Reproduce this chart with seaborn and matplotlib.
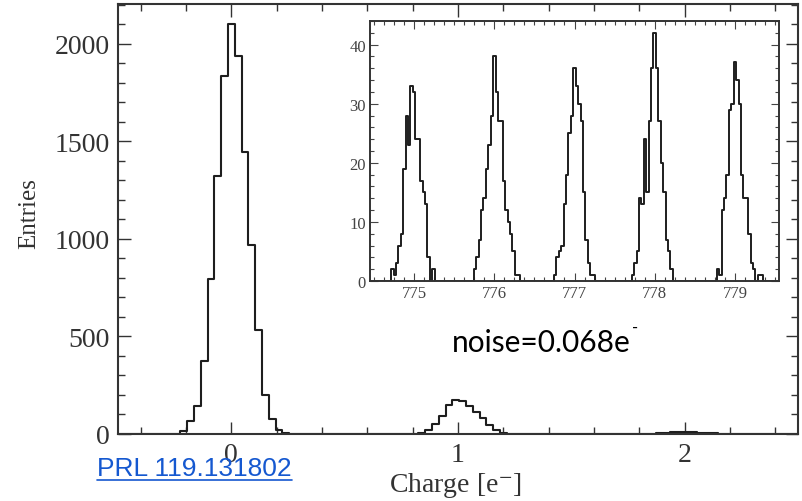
import numpy as np
import pandas as pd
import matplotlib
matplotlib.use("Agg")
import matplotlib.pyplot as plt
from matplotlib.ticker import MultipleLocator
from matplotlib.lines import Line2D
import seaborn as sns

# main panel: charge per pixel, 0.03 e- bins
peak0_charge = [-0.21, -0.18, -0.15, -0.12, -0.09, -0.06, -0.03, 0.0,
                0.03, 0.06, 0.09, 0.12, 0.15, 0.18, 0.21, 0.24]
peak0_entries = [14, 65, 145, 373, 795, 1325, 1837, 2103,
                 1940, 1445, 971, 535, 202, 77, 20, 5]
peak1_charge = [0.81, 0.84, 0.87, 0.90, 0.93, 0.96, 0.99, 1.02,
                1.05, 1.08, 1.11, 1.14, 1.17, 1.20, 1.23]
peak1_entries = [2, 5, 20, 52, 92, 150, 176, 168, 146, 112, 80, 45, 20, 6, 2]
peak2_charge = [1.83, 1.86, 1.89, 1.92, 1.95, 1.98, 2.01, 2.04, 2.07,
                2.10, 2.13, 2.16, 2.19]
peak2_entries = [1, 2, 3, 6, 8, 10, 9, 8, 6, 4, 3, 2, 1]

# inset: high-charge calibration peaks (first bin index relative to peak)
inset_peaks = [775, 776, 777, 778, 779]
inset_first_bin = [-9, -8, -8, -9, -7]
counts_775 = [2, 1, 3, 6, 8, 19, 28, 23, 33, 32, 24, 24, 17, 15, 13, 4, 0, 2]
counts_776 = [2, 4, 7, 12, 14, 19, 23, 28, 38, 32, 27, 27, 17, 12, 10, 8, 5, 1, 1]
counts_777 = [1, 4, 5, 6, 13, 18, 25, 28, 36, 33, 30, 27, 15, 7, 3, 1, 1]
counts_778 = [1, 3, 5, 14, 13, 24, 15, 27, 36, 42, 36, 27, 20, 15, 7, 5, 2]
counts_779 = [2, 1, 12, 14, 18, 29, 30, 37, 34, 30, 18, 14, 14, 8, 3, 2, 0, 1, 1]
inset_counts = [counts_775, counts_776, counts_777, counts_778, counts_779]

bin_w = 0.03

sns.set_theme(style="ticks")
plt.rcParams["font.family"] = ["Liberation Serif", "DejaVu Serif"]
plt.rcParams["mathtext.fontset"] = "stix"

fig = plt.figure(figsize=(8.03, 5.02), dpi=100)
ax = fig.add_axes([0.147, 0.1335, 0.8468, 0.8565])

main_df = pd.DataFrame({
    "charge": np.concatenate([peak0_charge, peak1_charge, peak2_charge]),
    "entries": np.concatenate([peak0_entries, peak1_entries, peak2_entries]),
})
# seaborn compares bins to "auto", so hand it a plain list
main_edges = np.linspace(-0.495, 2.505, 101).tolist()
sns.histplot(data=main_df, x="charge", weights="entries", bins=main_edges,
             element="step", fill=False, color="#1e1e1e", linewidth=1.5, ax=ax)

ax.set_xlim(-0.5, 2.5)
ax.set_ylim(0, 2205)
ax.xaxis.set_major_locator(MultipleLocator(1))
ax.xaxis.set_minor_locator(MultipleLocator(0.2))
ax.yaxis.set_major_locator(MultipleLocator(500))
ax.yaxis.set_minor_locator(MultipleLocator(100))
ax.tick_params(which="both", direction="in", top=True, right=True,
               color="#333333", width=1.0)
ax.tick_params(which="major", length=9, labelsize=20, labelcolor="#333333", pad=6)
ax.tick_params(which="minor", length=5)
for s in ax.spines.values():
    s.set_linewidth(1.5)
    s.set_color("#333333")
ax.set_xlabel("Charge [e$^{-}$]", fontsize=20, color="#333333")
ax.set_ylabel("Entries", fontsize=18, color="#333333")
ax.xaxis.set_label_coords(0.4956, -0.083)
ax.yaxis.set_label_coords(-0.1147, 0.516)

# inset
ins = fig.add_axes([370 / 803, (502 - 282) / 502, 409 / 803, 260 / 502])
ins_x, ins_w, ins_edges = [], [], [np.array([774.45, 779.55])]
for peak, first, counts in zip(inset_peaks, inset_first_bin, inset_counts):
    k = np.arange(first, first + len(counts))
    ins_x.append(peak + bin_w * k)
    ins_w.append(counts)
    ins_edges.append(peak + bin_w * (np.arange(first, first + len(counts) + 1) - 0.5))
ins_df = pd.DataFrame({"charge": np.concatenate(ins_x),
                       "entries": np.concatenate(ins_w)})
ins_edges = np.unique(np.round(np.concatenate(ins_edges), 6)).tolist()
sns.histplot(data=ins_df, x="charge", weights="entries", bins=ins_edges,
             element="step", fill=False, color="#1e1e1e", linewidth=1.4, ax=ins)

ins.set_xlim(774.45, 779.55)
ins.set_ylim(0, 44)
ins.xaxis.set_major_locator(MultipleLocator(1))
ins.xaxis.set_minor_locator(MultipleLocator(0.125))
ins.yaxis.set_major_locator(MultipleLocator(10))
ins.yaxis.set_minor_locator(MultipleLocator(2))
ins.tick_params(which="both", direction="in", top=True, right=True,
                color="#444444", width=0.8)
ins.tick_params(which="major", length=6, labelsize=12, labelcolor="#444444", pad=3)
ins.tick_params(which="minor", length=3)
for s in ins.spines.values():
    s.set_linewidth(1.4)
    s.set_color("#333333")
ins.set_xlabel("")
ins.set_ylabel("")

noise = fig.text(452 / 803, (502 - 352) / 502, "noise=0.068e", fontsize=21.5,
                 family=["Lato", "DejaVu Sans"], color="black", va="baseline")
fig.canvas.draw()
bb = noise.get_window_extent()
fig.text(bb.x1 / 803 + 0.002, (502 - 333) / 502, "-", fontsize=12,
         family=["Lato", "DejaVu Sans"], color="black", va="baseline")

link = fig.text(97 / 803, (502 - 476) / 502, "PRL 119.131802", fontsize=19,
                family=["Liberation Sans", "DejaVu Sans"], color="#1558d0",
                va="baseline")
fig.canvas.draw()
lb = link.get_window_extent()
uy = (lb.y0 + 0.5) / 502
fig.add_artist(Line2D([lb.x0 / 803, lb.x1 / 803], [uy, uy], color="#1558d0",
                      linewidth=1.2, transform=fig.transFigure))

fig.savefig("out.png", dpi=100)
